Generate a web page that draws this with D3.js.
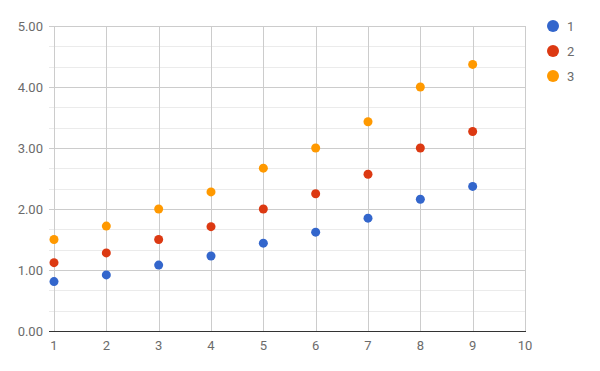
<!DOCTYPE html>
<html>
<head>
<meta charset="utf-8">
<script src="https://cdn.jsdelivr.net/npm/d3@7"></script>
<style>
  body { margin: 0; background: #fff; }
  text { font-family: Roboto, Arial, sans-serif; }
</style>
</head>
<body>
<svg width="600" height="371"></svg>
<script>
// data
var xValues = [1, 2, 3, 4, 5, 6, 7, 8, 9];
var series1 = [0.81, 0.92, 1.08, 1.23, 1.44, 1.62, 1.85, 2.16, 2.37];
var series2 = [1.12, 1.28, 1.50, 1.71, 2.00, 2.25, 2.57, 3.00, 3.27];
var series3 = [1.50, 1.72, 2.00, 2.28, 2.67, 3.00, 3.43, 4.00, 4.37];
var seriesNames = ["1", "2", "3"];
var xTicks = [1, 2, 3, 4, 5, 6, 7, 8, 9, 10];
var yTicks = [0, 1, 2, 3, 4, 5];

var colors = ["#3366cc", "#dc3912", "#ff9900"];
var allSeries = [series1, series2, series3];

var svg = d3.select("svg");

// scales
var x = d3.scaleLinear().domain([1, 10]).range([54, 525]);
var y = d3.scaleLinear().domain([0, 5]).range([331, 26]);

var g = svg.append("g");

// minor horizontal gridlines (thirds)
var minor = [];
for (var i = 0; i < 15; i++) if (i % 3 !== 0) minor.push(i / 3);
g.selectAll(".minor").data(minor).enter().append("line")
  .attr("x1", 49).attr("x2", x(10))
  .attr("y1", d => Math.round(y(d)) + 0.5).attr("y2", d => Math.round(y(d)) + 0.5)
  .attr("stroke", "#ebebeb").attr("stroke-width", 1);

// vertical gridlines
g.selectAll(".vgrid").data(xTicks).enter().append("line")
  .attr("x1", d => Math.round(x(d)) + 0.5).attr("x2", d => Math.round(x(d)) + 0.5)
  .attr("y1", y(5)).attr("y2", y(0))
  .attr("stroke", "#cccccc").attr("stroke-width", 1);

// major horizontal gridlines
g.selectAll(".hgrid").data(yTicks.slice(1)).enter().append("line")
  .attr("x1", 49).attr("x2", x(10) + 1)
  .attr("y1", d => Math.round(y(d)) + 0.5).attr("y2", d => Math.round(y(d)) + 0.5)
  .attr("stroke", "#cccccc").attr("stroke-width", 1);

// baseline
g.append("line")
  .attr("x1", 49).attr("x2", x(10) + 1)
  .attr("y1", Math.round(y(0)) + 0.5).attr("y2", Math.round(y(0)) + 0.5)
  .attr("stroke", "#333333").attr("stroke-width", 1);

// y labels
g.selectAll(".ylab").data(yTicks).enter().append("text")
  .attr("x", 43).attr("y", d => y(d) + 4.5)
  .attr("text-anchor", "end")
  .attr("font-size", 13).attr("fill", "#6b6b6b")
  .text(d3.format(".2f"));

// x labels
g.selectAll(".xlab").data(xTicks).enter().append("text")
  .attr("x", d => x(d)).attr("y", 350)
  .attr("text-anchor", "middle")
  .attr("font-size", 13).attr("fill", "#6b6b6b")
  .text(d => d);

// points
allSeries.forEach(function (s, k) {
  g.selectAll(".pt" + k).data(s).enter().append("circle")
    .attr("cx", (d, i) => x(xValues[i]))
    .attr("cy", d => y(d))
    .attr("r", 4.5)
    .attr("fill", colors[k]);
});

// legend
var legend = svg.append("g").selectAll("g").data(seriesNames).enter().append("g")
  .attr("transform", (d, i) => "translate(553," + (26 + i * 25) + ")");
legend.append("circle").attr("r", 6).attr("fill", (d, i) => colors[i]);
legend.append("text").attr("x", 14).attr("y", 4.5)
  .attr("font-size", 13).attr("fill", "#6b6b6b")
  .text(d => d);
</script>
</body>
</html>
